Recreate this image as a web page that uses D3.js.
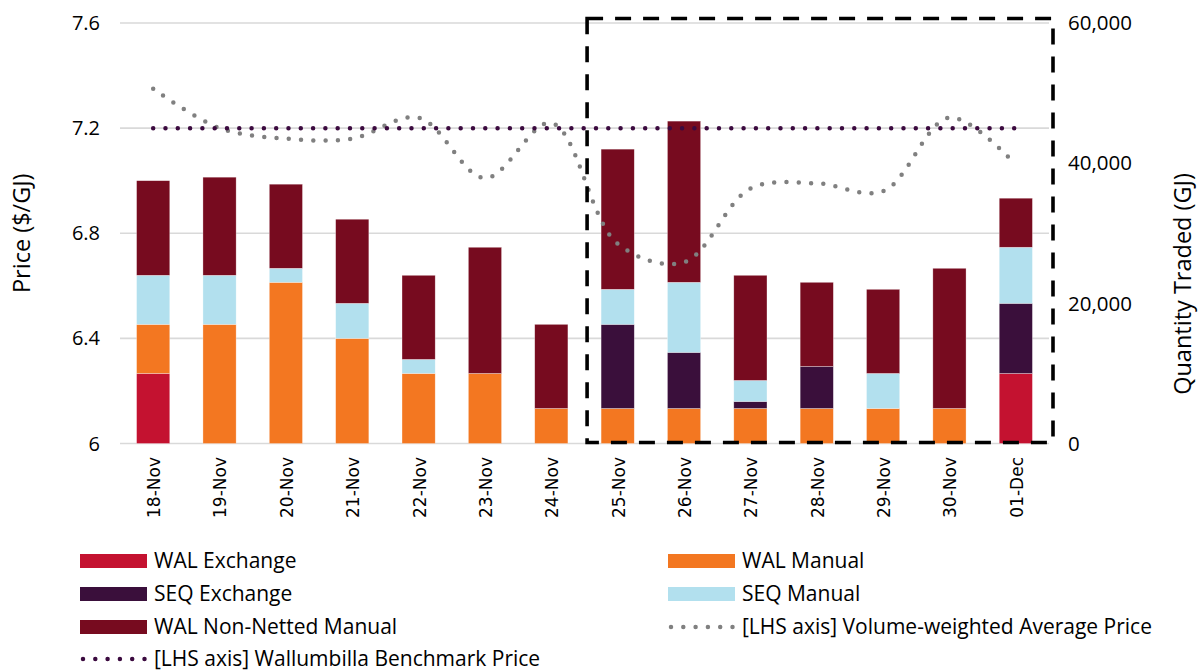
<!DOCTYPE html>
<html>
<head>
<meta charset="utf-8">
<script src="https://cdn.jsdelivr.net/npm/d3@7.9.0/dist/d3.min.js"></script>
<style>
  body { margin: 0; background: #fff; }
  svg { display: block; }
  text { fill: #000; }
</style>
</head>
<body>
<svg id="chart" width="1201" height="671"></svg>
<script>
// ---- data ----
const dates = ['18-Nov', '19-Nov', '20-Nov', '21-Nov', '22-Nov', '23-Nov', '24-Nov',
  '25-Nov', '26-Nov', '27-Nov', '28-Nov', '29-Nov', '30-Nov', '01-Dec'];

const walExchange = [10000, 0, 0, 0, 0, 0, 0, 0, 0, 0, 0, 0, 0, 10000];
const walManual = [7000, 17000, 23000, 15000, 10000, 10000, 5000, 5000, 5000, 5000, 5000, 5000, 5000, 0];
const seqExchange = [0, 0, 0, 0, 0, 0, 0, 12000, 8000, 1000, 6000, 0, 0, 10000];
const seqManual = [7000, 7000, 2000, 5000, 2000, 0, 0, 5000, 10000, 3000, 0, 5000, 0, 8000];
const walNonNetted = [13500, 14000, 12000, 12000, 12000, 18000, 12000, 20000, 23000, 15000, 12000, 12000, 20000, 7000];

const vwap = [7.35, 7.20, 7.16, 7.16, 7.24, 7.01, 7.22, 6.76, 6.69, 6.97, 6.99, 6.96, 7.24, 7.06];
const benchmark = [7.2, 7.2, 7.2, 7.2, 7.2, 7.2, 7.2, 7.2, 7.2, 7.2, 7.2, 7.2, 7.2, 7.2];

const priceTicks = [6, 6.4, 6.8, 7.2, 7.6];
const qtyTicks = [0, 20000, 40000, 60000];

const seriesNames = ['WAL Exchange', 'WAL Manual', 'SEQ Exchange', 'SEQ Manual', 'WAL Non-Netted Manual'];
const seriesValues = [walExchange, walManual, seqExchange, seqManual, walNonNetted];
const seriesColors = ['#c41230', '#f37721', '#3a0f3b', '#b2e0ee', '#770b1f'];

const highlightFrom = '25-Nov';

// ---- layout ----
const svg = d3.select('#chart');
const plotLeft = 120, plotRight = 1049, plotTop = 23, plotBottom = 443.5;
const font = "'Open Sans', sans-serif";

const x = d3.scaleBand().domain(dates).range([plotLeft, plotRight]).paddingInner(0.5).paddingOuter(0.25);
const yPrice = d3.scaleLinear().domain([6, 7.6]).range([plotBottom, plotTop]);
const yQty = d3.scaleLinear().domain([0, 60000]).range([plotBottom, plotTop]);

// gridlines
svg.append('g')
  .selectAll('line')
  .data(priceTicks)
  .join('line')
  .attr('x1', plotLeft).attr('x2', plotRight)
  .attr('y1', (d) => yPrice(d)).attr('y2', (d) => yPrice(d))
  .attr('stroke', '#d9d9d9')
  .attr('stroke-width', 1.6);

// stacked bars
const table = dates.map((date, i) => {
  const row = { date };
  seriesNames.forEach((name, s) => { row[name] = seriesValues[s][i]; });
  return row;
});
const stacked = d3.stack().keys(seriesNames)(table);

svg.append('g')
  .selectAll('g')
  .data(stacked)
  .join('g')
  .attr('fill', (d, i) => seriesColors[i])
  .selectAll('rect')
  .data((d) => d.filter((p) => p[1] > p[0]))
  .join('rect')
  .attr('x', (d) => x(d.data.date))
  .attr('width', x.bandwidth())
  .attr('y', (d) => yQty(d[1]))
  .attr('height', (d) => yQty(d[0]) - yQty(d[1]))
  .attr('stroke', '#ffffff')
  .attr('stroke-opacity', 0.5)
  .attr('stroke-width', 0.6);

// dotted lines (left axis)
const cx = (d) => x(d) + x.bandwidth() / 2;

const vwapLine = d3.line()
  .x((d, i) => cx(dates[i]))
  .y((d) => yPrice(d))
  .curve(d3.curveCatmullRom.alpha(0.5));

svg.append('path')
  .attr('d', vwapLine(vwap))
  .attr('fill', 'none')
  .attr('stroke', '#808080')
  .attr('stroke-width', 4.5)
  .attr('stroke-linecap', 'round')
  .attr('stroke-dasharray', '0 12.3');

const benchLine = d3.line()
  .x((d, i) => cx(dates[i]))
  .y((d) => yPrice(d));

svg.append('path')
  .attr('d', benchLine(benchmark))
  .attr('fill', 'none')
  .attr('stroke', '#3b0a3f')
  .attr('stroke-width', 4.5)
  .attr('stroke-linecap', 'round')
  .attr('stroke-dasharray', '0 12.3');

// dashed highlight box
const boxLeft = x(highlightFrom) - 14;
svg.append('rect')
  .attr('x', boxLeft)
  .attr('y', plotTop - 4.5)
  .attr('width', plotRight + 4 - boxLeft)
  .attr('height', plotBottom - 1 - (plotTop - 4.5))
  .attr('fill', 'none')
  .attr('stroke', '#000')
  .attr('stroke-width', 3.6)
  .attr('stroke-dasharray', '16 12');

// left axis labels
svg.append('g')
  .selectAll('text')
  .data(priceTicks)
  .join('text')
  .attr('x', 100)
  .attr('y', (d) => yPrice(d))
  .attr('dy', '0.35em')
  .attr('text-anchor', 'end')
  .attr('font-family', font)
  .attr('font-size', 20)
  .text((d) => d3.format('.1~f')(d));

// right axis labels
svg.append('g')
  .selectAll('text')
  .data(qtyTicks)
  .join('text')
  .attr('x', 1068)
  .attr('y', (d) => yQty(d))
  .attr('dy', '0.35em')
  .attr('font-family', font)
  .attr('font-size', 20.5)
  .text((d) => d3.format(',')(d));

// x labels
svg.append('g')
  .selectAll('text')
  .data(dates)
  .join('text')
  .attr('transform', (d) => `translate(${cx(d) + 1},457) rotate(-90)`)
  .attr('dy', '0.35em')
  .attr('text-anchor', 'end')
  .attr('font-family', "'DejaVu Sans', sans-serif")
  .attr('font-size', 17)
  .text((d) => d);

// axis titles
svg.append('text')
  .attr('transform', `translate(22,${(plotTop + plotBottom) / 2}) rotate(-90)`)
  .attr('dy', '0.35em')
  .attr('text-anchor', 'middle')
  .attr('font-family', font)
  .attr('font-size', 23.5)
  .text('Price ($/GJ)');

svg.append('text')
  .attr('transform', `translate(1183,284) rotate(-90)`)
  .attr('dy', '0.35em')
  .attr('text-anchor', 'middle')
  .attr('font-family', font)
  .attr('font-size', 23.5)
  .text('Quantity Traded (GJ)');

// legend
const legendItems = [
  { name: 'WAL Exchange', type: 'box', color: seriesColors[0], col: 0, row: 0 },
  { name: 'WAL Manual', type: 'box', color: seriesColors[1], col: 1, row: 0 },
  { name: 'SEQ Exchange', type: 'box', color: seriesColors[2], col: 0, row: 1 },
  { name: 'SEQ Manual', type: 'box', color: seriesColors[3], col: 1, row: 1 },
  { name: 'WAL Non-Netted Manual', type: 'box', color: seriesColors[4], col: 0, row: 2 },
  { name: '[LHS axis] Volume-weighted Average Price', type: 'dots', color: '#808080', col: 1, row: 2 },
  { name: '[LHS axis] Wallumbilla Benchmark Price', type: 'dots', color: '#3b0a3f', col: 0, row: 3 },
];
const colX = [80, 668];
const rowY = [561, 594, 627, 659];

const lg = svg.append('g')
  .selectAll('g')
  .data(legendItems)
  .join('g')
  .attr('transform', (d) => `translate(${colX[d.col]},${rowY[d.row]})`);

lg.filter((d) => d.type === 'box')
  .append('rect')
  .attr('x', 0).attr('y', -7)
  .attr('width', 67).attr('height', 14)
  .attr('fill', (d) => d.color);

lg.filter((d) => d.type === 'dots')
  .append('line')
  .attr('x1', 3).attr('x2', 65)
  .attr('y1', 0).attr('y2', 0)
  .attr('stroke', (d) => d.color)
  .attr('stroke-width', 4.5)
  .attr('stroke-linecap', 'round')
  .attr('stroke-dasharray', '0 12.3');

lg.append('text')
  .attr('x', 74)
  .attr('y', 0)
  .attr('dy', '0.33em')
  .attr('font-family', font)
  .attr('font-size', 21)
  .text((d) => d.name);
</script>
</body>
</html>
